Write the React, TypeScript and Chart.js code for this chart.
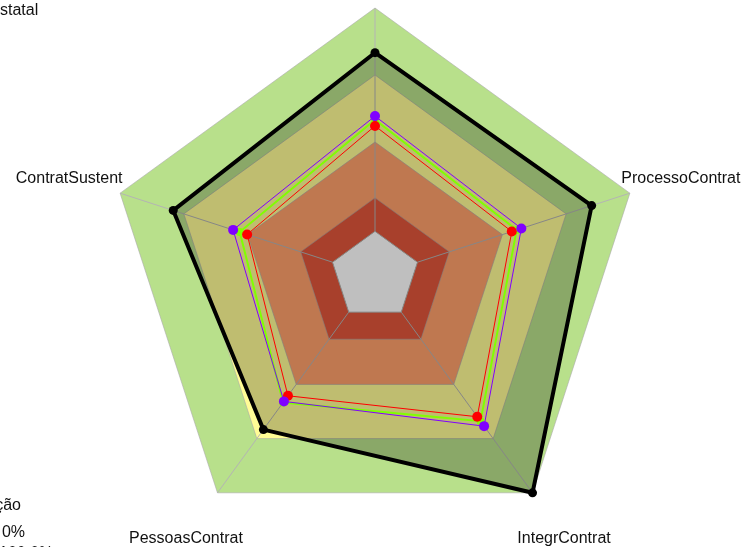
import React, { useEffect, useRef } from "react";
import { Chart, registerables } from "chart.js";

Chart.register(...registerables);

const categories = ["PlanejContrat", "ProcessoContrat", "IntegrContrat", "PessoasContrat", "ContratSustent"];

// background bands (fmsb-like zones)
const bandGreen = [1.0, 1.0, 1.0, 1.0, 1.0];
const bandYellow = [0.7, 0.7, 0.7, 0.7, 0.7];
const bandOrange = [0.4, 0.4, 0.4, 0.4, 0.4];
const bandRed = [0.15, 0.15, 0.15, 0.15, 0.15];

// series
const seriesBlack = [0.8, 0.82, 1.0, 0.65, 0.75];
const seriesGreen = [0.5, 0.467, 0.604, 0.5, 0.437];
const seriesRed = [0.472, 0.444, 0.579, 0.463, 0.402];
const seriesPurple = [0.516, 0.489, 0.631, 0.494, 0.468];

const scaleMin = -0.2;
const scaleMax = 1.0;

const FONT = '16px "Liberation Sans", Arial, sans-serif';

const overlayPlugin = {
  id: "overlay",
  afterDatasetDraw(chart: any, args: any) {
    if (args.index !== 3) return;
    const scale = chart.scales.r;
    const ctx = chart.ctx;
    const n = categories.length;
    ctx.save();
    ctx.strokeStyle = "#b4b4b4";
    ctx.lineWidth = 1;
    for (let i = 0; i < n; i++) {
      const a = scale.getPointPositionForValue(i, 0);
      const b = scale.getPointPositionForValue(i, scaleMax);
      ctx.beginPath();
      ctx.moveTo(a.x, a.y);
      ctx.lineTo(b.x, b.y);
      ctx.stroke();
    }
    ctx.beginPath();
    for (let i = 0; i < n; i++) {
      const a = scale.getPointPositionForValue(i, 0);
      if (i === 0) ctx.moveTo(a.x, a.y);
      else ctx.lineTo(a.x, a.y);
    }
    ctx.closePath();
    ctx.stroke();
    ctx.restore();
  },
  afterDraw(chart: any) {
    const scale = chart.scales.r;
    const ctx = chart.ctx;
    ctx.save();
    ctx.font = FONT;
    ctx.fillStyle = "#111";
    ctx.textAlign = "center";
    ctx.textBaseline = "middle";
    categories.forEach((c, i) => {
      const p = scale.getPointPosition(i, scale.drawingArea * 1.2);
      ctx.fillText(c, p.x, p.y + 2);
    });
    ctx.textAlign = "left";
    ctx.fillText("Estatal", -10.7, 11);
    ctx.textAlign = "right";
    ctx.fillText("Classificação", 21, 506);
    ctx.fillText("0%", 25, 533);
    ctx.textAlign = "left";
    ctx.fillText("100.0%", -1, 554);
    ctx.restore();
  },
};

export default function App() {
  const ref = useRef<HTMLCanvasElement | null>(null);
  useEffect(() => {
    if (!ref.current) return;
    const band = (data: number[], color: string, order: number) => ({
      data,
      backgroundColor: color,
      borderColor: "rgba(170,170,170,0.6)",
      borderWidth: 1,
      pointRadius: 0,
      fill: "origin",
      order,
    });
    const line = (data: number[], color: string, width: number, radius: number, order: number) => ({
      data,
      borderColor: color,
      backgroundColor: color,
      borderWidth: width,
      pointRadius: radius,
      pointBackgroundColor: color,
      pointBorderColor: color,
      pointBorderWidth: 0,
      fill: false,
      order,
    });
    const chart = new Chart(ref.current, {
      type: "radar",
      data: {
        labels: categories,
        datasets: [
          band(bandGreen, "rgb(184,224,139)", 10),
          band(bandYellow, "rgb(255,252,150)", 9),
          band(bandOrange, "rgb(255,160,107)", 8),
          band(bandRed, "rgb(224,86,59)", 7),
          {
            data: seriesBlack,
            borderColor: "#000",
            backgroundColor: "rgba(0,0,0,0.25)",
            borderWidth: 4,
            pointRadius: 4.5,
            pointBackgroundColor: "#000",
            pointBorderColor: "#000",
            pointBorderWidth: 0,
            fill: "start",
            order: 5,
          },
          line(seriesGreen, "#80ff00", 2, 4, 4),
          line(seriesRed, "#ff0000", 1, 5, 3),
          line(seriesPurple, "#8000ff", 1, 5, 2),
        ] as any,
      },
      plugins: [overlayPlugin],
      options: {
        animation: false,
        responsive: true,
        maintainAspectRatio: false,
        layout: { padding: { top: 8, bottom: 3, left: 4, right: 0 } },
        elements: { line: { tension: 0 } },
        plugins: {
          legend: { display: false },
          tooltip: { enabled: false },
          title: { display: false },
        },
        scales: {
          r: {
            min: scaleMin,
            max: scaleMax,
            startAngle: 0,
            ticks: { display: false },
            grid: { display: false },
            angleLines: { display: false },
            pointLabels: { display: false },
          },
        },
      } as any,
    });
    return () => chart.destroy();
  }, []);
  return (
    <div style={{ position: "fixed", left: 0, top: 0, width: 746, height: 547, background: "#fff" }}>
      <canvas ref={ref} style={{ width: "746px", height: "547px" }} />
    </div>
  );
}
